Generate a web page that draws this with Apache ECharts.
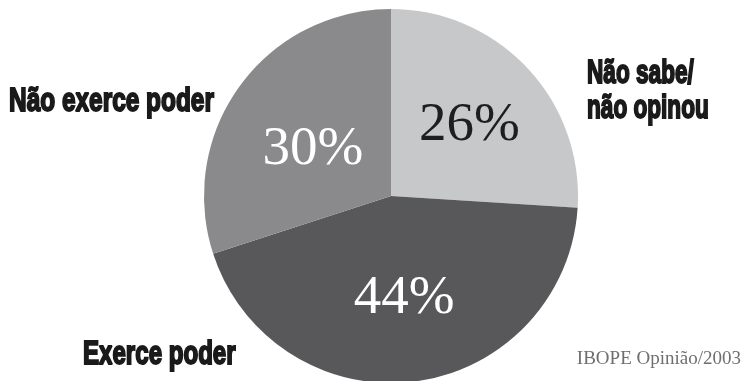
<!DOCTYPE html>
<html>
<head>
<meta charset="utf-8">
<script src="https://cdn.jsdelivr.net/npm/echarts@6/dist/echarts.min.js"></script>
<style>
  html, body { margin: 0; padding: 0; background: #ffffff; }
  #chart { width: 743px; height: 381px; }
</style>
</head>
<body>
<div id="chart"></div>
<script>
// Survey answers, in clockwise order from twelve o'clock
const categories = ['Não sabe/\nnão opinou', 'Exerce poder', 'Não exerce poder'];
const shares = [26, 44, 30];
const sliceColors = ['#c7c8c9', '#58585a', '#8a8a8c'];
const valueLabelColors = ['#1e1e1e', '#ffffff', '#ffffff'];
const sourceNote = 'IBOPE Opinião/2003';

// Anchors and horizontal squeeze for the category captions beside the pie
const captionSpots = [
  { left: 587, mid: 74, squeeze: 0.685 },
  { left: 83, mid: 355, squeeze: 0.73 },
  { left: 9, mid: 101.5, squeeze: 0.74 }
];
// Small shifts of the percentage labels away from the slice midpoints
const valueLabelShift = [[8, -4], [1, 7], [0, 10]];

const chart = echarts.init(document.getElementById('chart'), null, { renderer: 'canvas' });

const pieCenter = [391, 196];
const pieRadius = 187;

const captionFont = 'bold 33px "Liberation Sans", Arial, sans-serif';

const captions = [];
categories.forEach(function (name, i) {
  const lines = name.split('\n');
  lines.forEach(function (line, j) {
    captions.push({
      type: 'text',
      x: captionSpots[i].left,
      y: captionSpots[i].mid + j * 35,
      scaleX: captionSpots[i].squeeze,
      silent: true,
      style: {
        text: line,
        font: captionFont,
        fill: '#1a1a1a',
        stroke: '#1a1a1a',
        lineWidth: 2,
        textAlign: 'left',
        textVerticalAlign: 'middle'
      }
    });
  });
});

captions.push({
  type: 'text',
  right: 2,
  top: 350,
  silent: true,
  style: {
    text: sourceNote,
    font: '19px "Liberation Serif", "Times New Roman", serif',
    fill: '#6f6f6f'
  }
});

chart.setOption({
  animation: false,
  backgroundColor: '#ffffff',
  graphic: captions,
  series: [{
    type: 'pie',
    center: pieCenter,
    radius: pieRadius,
    startAngle: 90,
    clockwise: true,
    silent: true,
    label: {
      show: true,
      position: 'inside',
      formatter: '{c}%',
      fontFamily: '"Liberation Serif", "Times New Roman", serif',
      fontSize: 55,
      fontWeight: 'normal'
    },
    labelLayout: function (params) {
      const s = valueLabelShift[params.dataIndex];
      return { dx: s[0], dy: s[1] };
    },
    labelLine: { show: false },
    itemStyle: { borderWidth: 0 },
    data: shares.map(function (v, i) {
      return {
        name: categories[i],
        value: v,
        itemStyle: { color: sliceColors[i] },
        label: { color: valueLabelColors[i] }
      };
    })
  }]
});
</script>
</body>
</html>
